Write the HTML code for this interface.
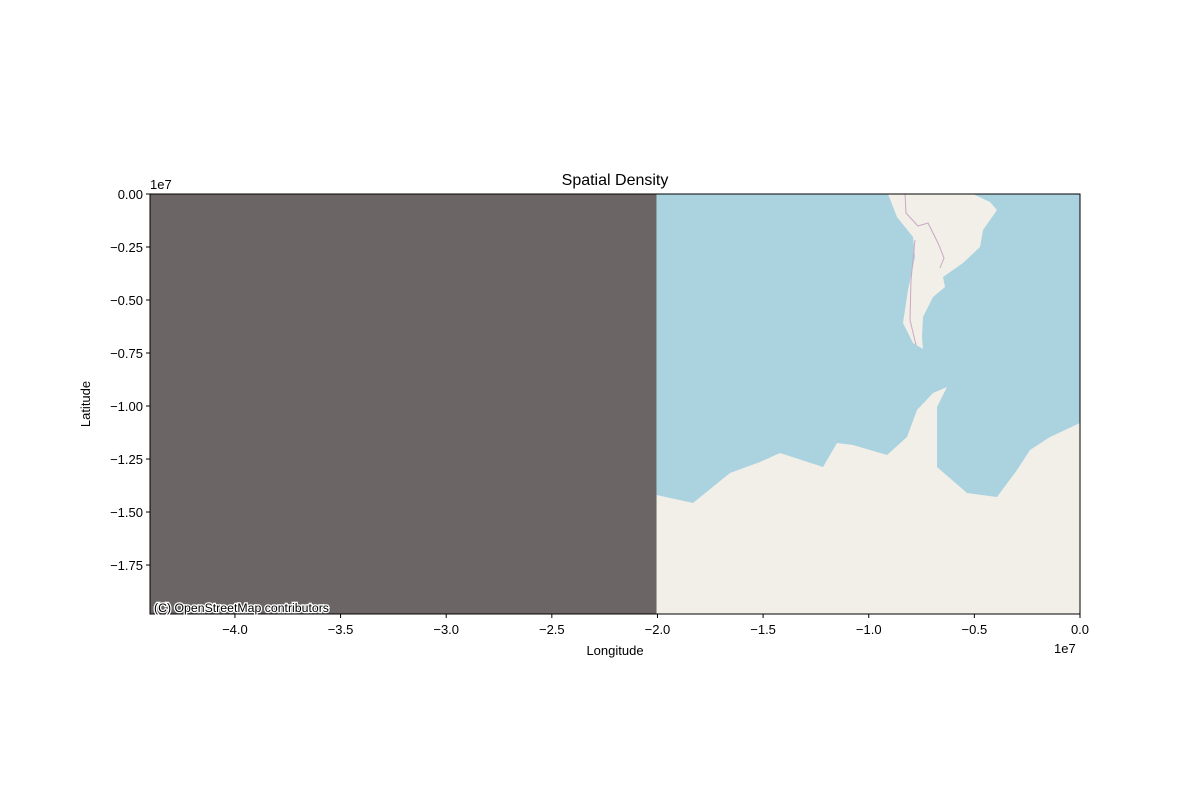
<!DOCTYPE html>
<html><head><meta charset="utf-8"><style>
body{margin:0;background:#fff;}
svg text{font-family:"Liberation Sans","DejaVu Sans",sans-serif;}
</style></head><body>
<svg width="1200" height="800" xmlns="http://www.w3.org/2000/svg">
<rect width="1200" height="800" fill="#fff"/>
<g id="plot"></g>
<text x="615" y="185" font-size="16" text-anchor="middle">Spatial Density</text>
<text x="615" y="655" font-size="13" text-anchor="middle">Longitude</text>
<text x="90" y="404" font-size="13" text-anchor="middle" transform="rotate(-90 90 404)">Latitude</text>
<text x="150" y="189" font-size="13">1e7</text>
<text x="1054" y="653" font-size="13">1e7</text>
</svg>
<script>
const xTicks=[-4.0,-3.5,-3.0,-2.5,-2.0,-1.5,-1.0,-0.5,0.0];
const yTicks=[0.00,-0.25,-0.50,-0.75,-1.00,-1.25,-1.50,-1.75];
const xDomain=[-4.402,0];
const yDomain=[-1.981,0];
const tileEdge=[-2.004];
const L=150,R=1080,T=194,B=614;
const sx=v=>L+(v-xDomain[0])/(xDomain[1]-xDomain[0])*(R-L);
const sy=v=>B-(v-yDomain[0])/(yDomain[1]-yDomain[0])*(B-T);
const NS="http://www.w3.org/2000/svg";
const svg=document.querySelector('svg');
const g=document.getElementById('plot');
function mk(tag,attrs,parent){const e=document.createElementNS(NS,tag);for(const k in attrs)e.setAttribute(k,attrs[k]);(parent||g).appendChild(e);return e;}
const ex=sx(tileEdge[0]);
let e=mk('rect',{x:L,y:T,width:ex-L,height:B-T,fill:'#6b6665'});


e=mk('rect',{x:ex,y:T,width:R-ex,height:B-T,fill:'#aad3df'});


e=mk('polygon',{fill:'#f2efe9',points:"888,194 897,217 913,237 915,257 908,290 903,323 913,343 923,349 922,337 923,317 933,297 945,287 943,277 963,263 980,247 983,230 997,210 990,202 973,194"});


e=mk('polyline',{fill:'none',stroke:'#c9a9c3','stroke-width':1,points:"905,194 906,213 918,226 928,223 938,243 944,258 940,268"});


e=mk('polyline',{fill:'none',stroke:'#c9a9c3','stroke-width':1,points:"915,240 911,280 910,320 916,345"});


e=mk('polygon',{fill:'#f2efe9',points:`${ex},495 693,503 730,473 760,462 780,453 823,467 837,443 853,445 887,455 907,437 917,410 933,393 947,387 937,407 937,467 967,493 997,497 1017,470 1030,450 1050,437 1080,423 1080,614 ${ex},614`});


e=mk('rect',{x:L,y:T,width:R-L,height:B-T,fill:'none',stroke:'#000','stroke-width':1});


e=mk('text',{x:154,y:612,'font-size':12.3,fill:'#000',stroke:'#fff','stroke-width':2.5,'paint-order':'stroke'});
e.textContent='(C) OpenStreetMap contributors';


xTicks.forEach(v=>{const x=sx(v);
 const t=mk('line',{x1:x,x2:x,y1:B,y2:B+4,stroke:'#000'});
 
 
 const l=mk('text',{x:x,y:B+20,'font-size':13,'text-anchor':'middle'},svg);
 l.textContent=(v<0?'−':'')+Math.abs(v).toFixed(1);
 
 });
yTicks.forEach(v=>{const y=sy(v);
 const t=mk('line',{x1:L-4,x2:L,y1:y,y2:y,stroke:'#000'});
 
 
 const l=mk('text',{x:L-7,y:y+5,'font-size':13,'text-anchor':'end'},svg);
 l.textContent=(v<0?'−':'')+Math.abs(v).toFixed(2);
 
 });
</script>
</body></html>
